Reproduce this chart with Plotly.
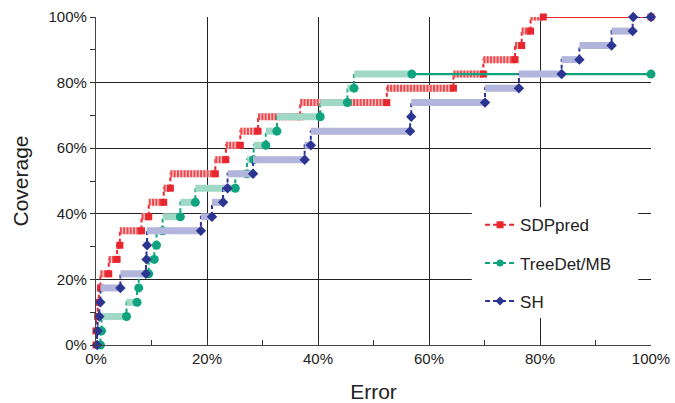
import plotly.graph_objects as go

# ---------------- data ----------------
coverage_levels = [4.3, 8.7, 13.0, 17.4, 21.7, 26.1, 30.4, 34.8, 39.1, 43.5, 47.8, 52.2,
                   56.5, 60.9, 65.2, 69.6, 73.9, 78.3, 82.6, 87.0, 91.3, 95.7, 100.0]

sdp_err = [0.0, 0.0, 0.3, 0.5, 0.8, 2.3, 3.8, 4.3, 8.2, 9.5, 12.2, 13.4, 21.5, 23.4,
           26.0, 29.2, 36.8, 52.4, 64.4, 69.8, 75.5, 76.7, 78.3]
sdp_cov = coverage_levels[:23]

tree_err = [0.8, 1.0, 5.5, 7.4, 7.7, 9.5, 10.5, 10.9, 12.0, 15.2, 17.9, 25.1, 27.2,
            28.4, 30.6, 32.6, 40.4, 45.3, 46.5]
tree_cov = coverage_levels[:19]

sh_err = [0.2, 0.3, 0.6, 0.8, 4.4, 9.0, 9.1, 9.2, 18.9, 20.9, 22.9, 23.7, 28.3, 37.6,
          38.7, 56.6, 56.8, 70.1, 76.2, 83.9, 87.1, 92.9, 96.7]
sh_cov = coverage_levels[:23]

x_ticks = [0, 20, 40, 60, 80, 100]
y_ticks = [0, 20, 40, 60, 80, 100]

series = [
    dict(name="SDPpred", err=sdp_err, cov=sdp_cov, color="#e8262d",
         base="#f9c6c7", band="#ec4a4f", band_dash="2px,1.3px", symbol="square", size=7,
         dense_end=80.6, tail=True),
    dict(name="TreeDet/MB", err=tree_err, cov=tree_cov, color="#10a47e",
         base="#9fd9c6", band="#9fd9c6", band_dash="solid", symbol="circle", size=9,
         dense_end=56.9, tail=True),
    dict(name="SH", err=sh_err, cov=sh_cov, color="#2c3592",
         base="#b2b5dc", band="#b2b5dc", band_dash="solid", symbol="diamond", size=8,
         dense_end=96.8, tail=False),
]

fig = go.Figure()

for s in series:
    starts = [0.0] + s["err"]
    ends = s["err"] + [100.0]
    levels = [0.0] + s["cov"]
    # step path
    fig.add_trace(go.Scatter(
        x=[0.0] + s["err"] + [100.0], y=[0.0] + s["cov"] + [s["cov"][-1]],
        mode="lines", line=dict(color=s["color"], width=2, dash="4px,3px", shape="hv"),
        showlegend=False, hoverinfo="skip", cliponaxis=False))
    # dense marker bands
    bx, by, mx, my = [], [], [], []
    for a, b, lv in zip(starts, ends, levels):
        if a < s["dense_end"]:
            e = min(b, s["dense_end"])
            if e > a:
                bx += [a, e, None]
                by += [lv, lv, None]
            mx.append(e)
            my.append(lv)
    mx.append(100.0)
    my.append(levels[-1])
    fig.add_trace(go.Scatter(
        x=bx, y=by, mode="lines",
        line=dict(color=s["base"], width=7),
        showlegend=False, hoverinfo="skip", cliponaxis=False))
    if s["band_dash"] != "solid":
        fig.add_trace(go.Scatter(
            x=bx, y=by, mode="lines",
            line=dict(color=s["band"], width=7, dash=s["band_dash"]),
            showlegend=False, hoverinfo="skip", cliponaxis=False))
    if s["tail"]:
        fig.add_trace(go.Scatter(
            x=[s["dense_end"], 100.0], y=[levels[-1], levels[-1]], mode="lines",
            line=dict(color=s["color"], width=2.2),
            showlegend=False, hoverinfo="skip", cliponaxis=False))
    fig.add_trace(go.Scatter(
        x=mx, y=my, mode="markers",
        marker=dict(symbol=s["symbol"], size=s["size"], color=s["color"], line=dict(width=0)),
        showlegend=False, hoverinfo="skip", cliponaxis=False))

# legend entries
for i, s in enumerate(series):
    fig.add_trace(go.Scatter(
        x=[None], y=[None], mode="lines+markers", name=s["name"], legendgroup=str(i),
        line=dict(color=s["color"], width=2, dash="5px,3px"),
        marker=dict(symbol=s["symbol"], size=7, color=s["color"])))

axis_font = dict(family="Liberation Sans, Arial, sans-serif", size=15, color="#222")
fig.update_layout(
    width=675, height=403,
    margin=dict(l=96, r=24, t=17, b=58, autoexpand=False),
    paper_bgcolor="white", plot_bgcolor="white",
    font=dict(family="Liberation Sans, Arial, sans-serif", color="#222"),
    showlegend=True,
    legend=dict(x=0.692, y=0.42, xanchor="left", yanchor="top",
                bgcolor="rgba(0,0,0,0)", borderwidth=0,
                font=dict(size=17, color="#222"), tracegroupgap=13, itemwidth=30),
    shapes=[dict(type="rect", xref="paper", yref="paper", x0=0.677, x1=0.977,
                 y0=0.082, y1=0.42, fillcolor="white", line=dict(width=0), layer="above")],
    xaxis=dict(range=[0, 100], tickvals=x_ticks, ticktext=[f"{v}%" for v in x_ticks],
               automargin=False,
               showgrid=True, gridcolor="#222", gridwidth=1,
               ticks="inside", ticklen=5, tickcolor="#333",
               minor=dict(dtick=10, tick0=0, ticks="inside", ticklen=5, tickcolor="#333", showgrid=False),
               showline=True, linecolor="#444", linewidth=1.2, zeroline=False,
               tickfont=axis_font,
               title=dict(text="Error", font=dict(size=21, color="#222"), standoff=19)),
    yaxis=dict(range=[0, 100], tickvals=y_ticks, ticktext=[f"{v}%" for v in y_ticks],
               automargin=False,
               showgrid=True, gridcolor="#222", gridwidth=1,
               ticks="outside", ticklen=5, tickcolor="#333",
               minor=dict(dtick=10, tick0=0, ticks="outside", ticklen=5, tickcolor="#333", showgrid=False),
               showline=True, linecolor="#444", linewidth=1.2, zeroline=False,
               tickfont=axis_font,
               title=dict(text="Coverage", font=dict(size=21, color="#222"), standoff=14)),
)

fig.write_html("out.html")
